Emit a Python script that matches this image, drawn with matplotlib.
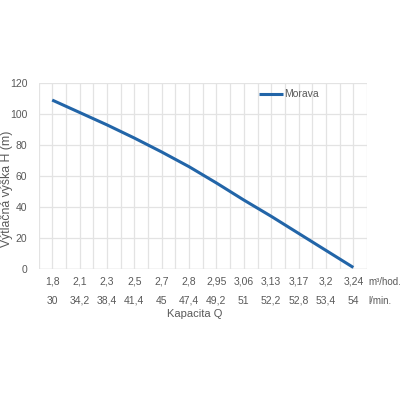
import matplotlib
matplotlib.use("Agg")
import matplotlib.pyplot as plt
import matplotlib.transforms as mtransforms

plt.rcParams['font.family'] = ['Liberation Sans', 'DejaVu Sans']

q_m3h = ["1,8", "2,1", "2,3", "2,5", "2,7", "2,8", "2,95", "3,06", "3,13", "3,17", "3,2", "3,24"]
q_lmin = ["30", "34,2", "38,4", "41,4", "45", "47,4", "49,2", "51", "52,2", "52,8", "53,4", "54"]
head_m = [109, 101, 93, 84.5, 75.5, 66, 55.5, 44.5, 34, 23, 12, 1]
series_name = "Morava"
y_ticks = [0, 20, 40, 60, 80, 100, 120]

W, H = 400, 400
fig = plt.figure(figsize=(4, 4), dpi=100)
left, right, top, bottom = 38.5, 367, 83, 269
ax = fig.add_axes([left / W, 1 - bottom / H, (right - left) / W, (bottom - top) / H])

txt_col = "#595959"
grid_col = "#e3e3e3"
line_col = "#2265a8"

x = list(range(len(q_m3h)))
ax.plot(x, head_m, color=line_col, lw=2.2, solid_capstyle='butt', label=series_name, zorder=3)

ax.set_xlim(-0.5, len(x) - 0.5)
ax.set_ylim(0, 120)
ax.set_yticks(y_ticks)
ax.set_yticklabels([str(v) for v in y_ticks], color=txt_col, fontsize=7.5)
ax.tick_params(axis='y', length=0, pad=8)
ax.set_xticks([i * 0.5 - 0.5 for i in range(2 * len(x) + 1)])
ax.set_xticklabels([])
ax.tick_params(axis='x', length=0)
ax.grid(True, color=grid_col, lw=0.9, zorder=0)
for s in ax.spines.values():
    s.set_visible(False)
ax.axhline(0, color="#d9d9d9", lw=1.0, zorder=1)

trans = mtransforms.blended_transform_factory(ax.transData, fig.transFigure)
for i, (a, b) in enumerate(zip(q_m3h, q_lmin)):
    ax.text(i, 1 - 282 / H, a, transform=trans, ha='center', va='center', fontsize=7.5, color=txt_col)
    ax.text(i, 1 - 300.5 / H, b, transform=trans, ha='center', va='center', fontsize=7.5, color=txt_col)
fig.text(368 / W, 1 - 282 / H, "m³/hod.", ha='left', va='center', fontsize=7, color=txt_col)
fig.text(368 / W, 1 - 300.5 / H, "l/min.", ha='left', va='center', fontsize=7, color=txt_col)
fig.text(((left + right) / 2 - 8) / W, 1 - 314 / H, "Kapacita Q", ha='center', va='center', fontsize=8, color=txt_col)
fig.text(7.5 / W, 1 - 189 / H, "Výtlačná výška H (m)", rotation=90, ha='center', va='center', fontsize=8.8, color=txt_col)

leg = ax.legend(loc='upper left', bbox_to_anchor=((255 - left) / (right - left), 0.988), frameon=False,
                fontsize=7.5, handlelength=2.3, handletextpad=0.1, borderaxespad=0)
for t in leg.get_texts():
    t.set_color(txt_col)

fig.savefig("out.png", dpi=100, facecolor="white")
